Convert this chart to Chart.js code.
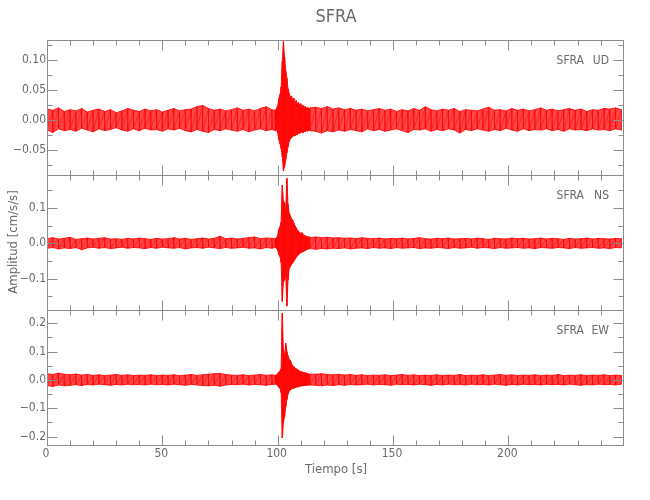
<!DOCTYPE html>
<html>
<head>
<meta charset="utf-8">
<script src="https://cdn.jsdelivr.net/npm/chart.js@4.4.1/dist/chart.umd.min.js"></script>
<style>
    html, body { margin: 0; padding: 0; background: #fff; }
    #wrap { position: relative; width: 650px; height: 500px; }
    #wrap canvas { position: absolute; left: 0; top: 0; }
</style>
</head>
<body>
<div id="wrap">
    <canvas id="c1" width="650" height="500"></canvas>
    <canvas id="c2" width="650" height="500"></canvas>
    <canvas id="c3" width="650" height="500"></canvas>
</div>
<script>
// tiempos (s) de cada ventana de la envolvente
const tiempoPre = [0, 2.5, 5, 7.5, 10, 12.5, 15, 17.5, 20, 22.5, 25, 27.5, 30, 32.5, 35, 37.5, 40, 42.5, 45, 47.5,
    50, 52.5, 55, 57.5, 60, 62.5, 65, 67.5, 70, 72.5, 75, 77.5, 80, 82.5, 85, 87.5, 90, 92.5, 95, 97.5];
const tiempoEvento = [99, 99.5, 100, 100.5, 101, 101.5, 102, 102.5, 103, 103.5, 104, 104.5, 105, 105.5, 106, 106.5,
    107, 107.5, 108, 108.5, 109, 109.5, 110, 110.5, 111, 111.5, 112, 112.5, 113, 113.5, 114];
const tiempoPost = [116.5, 119, 121.5, 124, 126.5, 129, 131.5, 134, 136.5, 139, 141.5, 144, 146.5, 149, 151.5, 154,
    156.5, 159, 161.5, 164, 166.5, 169, 171.5, 174, 176.5, 179, 181.5, 184, 186.5, 189, 191.5, 194, 196.5, 199,
    201.5, 204, 206.5, 209, 211.5, 214, 216.5, 219, 221.5, 224, 226.5, 229, 231.5, 234, 236.5, 239, 241.5, 244, 246.5, 249];

// componente UD (cm/s/s): maximo y minimo de cada ventana
const udMaxPre = [0.018, 0.016, 0.020, 0.014, 0.017, 0.015, 0.019, 0.013, 0.016, 0.018, 0.014, 0.017, 0.012, 0.015,
    0.019, 0.016, 0.014, 0.018, 0.015, 0.017, 0.013, 0.016, 0.019, 0.015, 0.017, 0.018, 0.022, 0.024, 0.019, 0.016,
    0.018, 0.015, 0.017, 0.020, 0.016, 0.018, 0.015, 0.019, 0.022, 0.017];
const udMinPre = [-0.017, -0.021, -0.015, -0.018, -0.016, -0.019, -0.014, -0.017, -0.020, -0.015, -0.018, -0.016,
    -0.013, -0.017, -0.019, -0.015, -0.018, -0.014, -0.017, -0.016, -0.019, -0.015, -0.017, -0.014, -0.018, -0.020,
    -0.016, -0.019, -0.021, -0.016, -0.018, -0.015, -0.017, -0.019, -0.016, -0.020, -0.017, -0.015, -0.018, -0.016];
const udMaxEvento = [0.016, 0.019, 0.024, 0.035, 0.042, 0.055, 0.098, 0.131, 0.105, 0.082, 0.070, 0.052, 0.044,
    0.038, 0.040, 0.034, 0.036, 0.030, 0.032, 0.027, 0.029, 0.025, 0.027, 0.022, 0.024, 0.021, 0.023, 0.019, 0.021, 0.018, 0.020];
const udMinEvento = [-0.018, -0.017, -0.022, -0.033, -0.040, -0.048, -0.062, -0.085, -0.078, -0.066, -0.055, -0.045,
    -0.036, -0.032, -0.030, -0.028, -0.026, -0.027, -0.024, -0.025, -0.022, -0.023, -0.021, -0.020, -0.022, -0.019,
    -0.020, -0.018, -0.019, -0.017, -0.018];
const udMaxPost = [0.021, 0.019, 0.022, 0.018, 0.020, 0.017, 0.019, 0.016, 0.018, 0.015, 0.017, 0.019, 0.016, 0.018,
    0.014, 0.017, 0.015, 0.019, 0.016, 0.022, 0.017, 0.015, 0.018, 0.016, 0.019, 0.014, 0.017, 0.016, 0.015, 0.018,
    0.021, 0.016, 0.017, 0.015, 0.019, 0.016, 0.018, 0.015, 0.017, 0.020, 0.016, 0.018, 0.015, 0.017, 0.019, 0.016,
    0.018, 0.014, 0.017, 0.016, 0.019, 0.018, 0.020, 0.017];
const udMinPost = [-0.019, -0.022, -0.018, -0.020, -0.017, -0.019, -0.016, -0.018, -0.020, -0.015, -0.018, -0.016,
    -0.019, -0.017, -0.015, -0.018, -0.021, -0.016, -0.017, -0.015, -0.019, -0.016, -0.018, -0.015, -0.017, -0.022,
    -0.016, -0.018, -0.015, -0.017, -0.019, -0.016, -0.018, -0.014, -0.017, -0.019, -0.015, -0.018, -0.016, -0.017,
    -0.015, -0.018, -0.016, -0.019, -0.015, -0.017, -0.016, -0.018, -0.015, -0.017, -0.016, -0.018, -0.015, -0.017];

// componente NS
const nsMaxPre = [0.013, 0.016, 0.012, 0.014, 0.017, 0.011, 0.013, 0.015, 0.012, 0.014, 0.016, 0.012, 0.013, 0.011,
    0.014, 0.012, 0.015, 0.013, 0.011, 0.014, 0.012, 0.013, 0.016, 0.012, 0.014, 0.011, 0.013, 0.015, 0.012, 0.014,
    0.020, 0.013, 0.015, 0.012, 0.014, 0.016, 0.018, 0.013, 0.015, 0.014];
const nsMinPre = [-0.014, -0.012, -0.016, -0.013, -0.015, -0.012, -0.018, -0.013, -0.011, -0.014, -0.012, -0.015,
    -0.013, -0.011, -0.014, -0.012, -0.013, -0.015, -0.012, -0.014, -0.011, -0.013, -0.014, -0.012, -0.016, -0.013,
    -0.012, -0.014, -0.011, -0.013, -0.015, -0.012, -0.014, -0.013, -0.011, -0.014, -0.013, -0.016, -0.012, -0.014];
const nsMaxEvento = [0.013, 0.016, 0.022, 0.040, 0.047, 0.060, 0.165, 0.120, 0.114, 0.095, 0.184, 0.110, 0.085,
    0.078, 0.070, 0.066, 0.058, 0.050, 0.044, 0.038, 0.035, 0.031, 0.028, 0.030, 0.025, 0.023, 0.021, 0.020, 0.018, 0.019, 0.016];
const nsMinEvento = [-0.012, -0.015, -0.020, -0.032, -0.038, -0.055, -0.165, -0.110, -0.104, -0.090, -0.178, -0.105,
    -0.072, -0.066, -0.060, -0.056, -0.050, -0.045, -0.040, -0.036, -0.033, -0.030, -0.027, -0.025, -0.024, -0.022,
    -0.020, -0.019, -0.017, -0.016, -0.015];
const nsMaxPost = [0.018, 0.016, 0.017, 0.015, 0.016, 0.014, 0.015, 0.013, 0.016, 0.014, 0.013, 0.015, 0.012, 0.014,
    0.013, 0.015, 0.012, 0.014, 0.016, 0.013, 0.012, 0.014, 0.013, 0.015, 0.012, 0.013, 0.014, 0.012, 0.015, 0.013,
    0.011, 0.014, 0.013, 0.012, 0.015, 0.013, 0.014, 0.012, 0.013, 0.015, 0.012, 0.014, 0.013, 0.011, 0.014, 0.012,
    0.013, 0.015, 0.012, 0.014, 0.013, 0.012, 0.014, 0.013];
const nsMinPost = [-0.017, -0.015, -0.016, -0.014, -0.015, -0.013, -0.016, -0.014, -0.013, -0.015, -0.012, -0.014,
    -0.013, -0.015, -0.012, -0.014, -0.013, -0.012, -0.015, -0.013, -0.014, -0.012, -0.013, -0.015, -0.012, -0.014,
    -0.013, -0.011, -0.014, -0.012, -0.013, -0.015, -0.012, -0.014, -0.013, -0.012, -0.014, -0.013, -0.015, -0.012,
    -0.013, -0.014, -0.012, -0.013, -0.015, -0.012, -0.014, -0.013, -0.012, -0.014, -0.013, -0.015, -0.012, -0.013];

// componente EW
const ewMaxPre = [0.022, 0.019, 0.024, 0.020, 0.018, 0.021, 0.017, 0.019, 0.016, 0.018, 0.015, 0.017, 0.019, 0.016,
    0.018, 0.015, 0.017, 0.016, 0.018, 0.015, 0.017, 0.016, 0.018, 0.015, 0.017, 0.019, 0.016, 0.018, 0.020, 0.022,
    0.023, 0.019, 0.017, 0.016, 0.018, 0.015, 0.017, 0.019, 0.016, 0.018];
const ewMinPre = [-0.020, -0.023, -0.018, -0.021, -0.019, -0.017, -0.020, -0.016, -0.018, -0.015, -0.017, -0.019,
    -0.016, -0.018, -0.015, -0.017, -0.016, -0.018, -0.015, -0.017, -0.016, -0.018, -0.015, -0.017, -0.019, -0.016,
    -0.018, -0.020, -0.021, -0.019, -0.022, -0.018, -0.016, -0.017, -0.015, -0.018, -0.016, -0.017, -0.019, -0.016];
const ewMaxEvento = [0.016, 0.018, 0.022, 0.028, 0.032, 0.040, 0.236, 0.110, 0.082, 0.130, 0.100, 0.085, 0.072,
    0.070, 0.058, 0.050, 0.047, 0.042, 0.040, 0.036, 0.035, 0.031, 0.030, 0.028, 0.027, 0.025, 0.026, 0.024, 0.022, 0.021, 0.020];
const ewMinEvento = [-0.015, -0.017, -0.020, -0.026, -0.030, -0.045, -0.205, -0.150, -0.130, -0.095, -0.070, -0.050,
    -0.040, -0.035, -0.033, -0.030, -0.030, -0.028, -0.026, -0.025, -0.024, -0.023, -0.022, -0.021, -0.021, -0.020,
    -0.020, -0.019, -0.019, -0.018, -0.018];
const ewMaxPost = [0.020, 0.022, 0.019, 0.018, 0.020, 0.017, 0.019, 0.016, 0.018, 0.015, 0.017, 0.016, 0.018, 0.015,
    0.017, 0.019, 0.016, 0.018, 0.015, 0.017, 0.016, 0.018, 0.015, 0.017, 0.016, 0.019, 0.015, 0.017, 0.016, 0.018,
    0.015, 0.017, 0.019, 0.016, 0.018, 0.015, 0.017, 0.016, 0.018, 0.015, 0.017, 0.016, 0.019, 0.015, 0.017, 0.016,
    0.018, 0.015, 0.017, 0.016, 0.018, 0.015, 0.017, 0.016];
const ewMinPost = [-0.019, -0.021, -0.018, -0.020, -0.017, -0.019, -0.016, -0.018, -0.017, -0.015, -0.018, -0.016,
    -0.017, -0.019, -0.015, -0.017, -0.016, -0.018, -0.015, -0.017, -0.019, -0.016, -0.018, -0.015, -0.017, -0.016,
    -0.018, -0.015, -0.017, -0.016, -0.018, -0.015, -0.017, -0.019, -0.016, -0.018, -0.015, -0.017, -0.016, -0.018,
    -0.015, -0.017, -0.016, -0.018, -0.015, -0.017, -0.019, -0.016, -0.018, -0.015, -0.017, -0.016, -0.018, -0.015];

// etiquetas de los ejes
const ticksX = [0, 50, 100, 150, 200];
const ticksUD = [-0.05, 0.00, 0.05, 0.10];
const ticksNS = [-0.1, 0.0, 0.1];
const ticksEW = [-0.2, -0.1, 0.0, 0.1, 0.2];

const tiempo = tiempoPre.concat(tiempoEvento, tiempoPost);

const fuente = "'Liberation Sans Narrow', 'DejaVu Sans Condensed', 'Roboto', sans-serif";
const gris = '#8c8c8c';
const grisTexto = '#6a6a6a';

const paneles = [
    { id: 'c1', canal: 'UD', max: udMaxPre.concat(udMaxEvento, udMaxPost), min: udMinPre.concat(udMinEvento, udMinPost),
      yMin: -0.092, yMax: 0.1333, ticks: ticksUD, dec: 2, menor: 0.025, pad: { top: 40, bottom: 325 } },
    { id: 'c2', canal: 'NS', max: nsMaxPre.concat(nsMaxEvento, nsMaxPost), min: nsMinPre.concat(nsMinEvento, nsMinPost),
      yMin: -0.189, yMax: 0.1935, ticks: ticksNS, dec: 1, menor: 0.05, pad: { top: 175, bottom: 190 } },
    { id: 'c3', canal: 'EW', max: ewMaxPre.concat(ewMaxEvento, ewMaxPost), min: ewMinPre.concat(ewMinEvento, ewMinPost),
      yMin: -0.23, yMax: 0.247, ticks: ticksEW, dec: 1, menor: 0.05, pad: { top: 310, bottom: 55 } }
];

function fmt(v, dec) {
    let s = Math.abs(v).toFixed(dec);
    return v < -1e-9 ? '\u2212' + s : s;
}

function letra(ctx, size) {
    ctx.font = size + 'px ' + fuente;
}

const marco = {
    id: 'marco',
    afterDraw(chart, args, opts) {
        const ctx = chart.ctx;
        const a = chart.chartArea;
        const sx = chart.scales.x, sy = chart.scales.y;
        const L = Math.round(a.left) + 0.5, R = Math.round(a.right) + 0.5;
        const T = Math.round(a.top) + 0.5, B = Math.round(a.bottom) + 0.5;
        ctx.save();
        ctx.strokeStyle = gris;
        ctx.lineWidth = 1;
        ctx.strokeRect(L, T, R - L, B - T);
        ctx.beginPath();
        // marcas del eje x, arriba y abajo
        for (let v = 0; v <= sx.max; v += 10) {
            const px = Math.round(sx.getPixelForValue(v)) + 0.5;
            const len = v % 50 === 0 ? 10 : 5;
            ctx.moveTo(px, B); ctx.lineTo(px, B - len);
            ctx.moveTo(px, T); ctx.lineTo(px, T + len);
        }
        // marcas del eje y, izquierda y derecha
        const p = opts.panel;
        const n0 = Math.ceil(p.yMin / p.menor - 1e-6), n1 = Math.floor(p.yMax / p.menor + 1e-6);
        for (let k = n0; k <= n1; k++) {
            const v = k * p.menor;
            const py = Math.round(sy.getPixelForValue(v)) + 0.5;
            const mayor = p.ticks.some(t => Math.abs(t - v) < 1e-6);
            const len = mayor ? 10 : 5;
            ctx.moveTo(L, py); ctx.lineTo(L + len, py);
            ctx.moveTo(R, py); ctx.lineTo(R - len, py);
        }
        ctx.stroke();

        ctx.fillStyle = grisTexto;
        letra(ctx, 12);
        ctx.textAlign = 'right';
        ctx.textBaseline = 'middle';
        p.ticks.forEach(t => {
            ctx.fillText(fmt(t, p.dec), a.left - 1, sy.getPixelForValue(t));
        });
        // nombre de la estacion y componente
        ctx.fillText('SFRA', 584, a.top + 21);
        ctx.fillText(p.canal, 609, a.top + 21);

        if (p.canal === 'EW') {
            ctx.textAlign = 'center';
            ticksX.forEach(t => {
                ctx.fillText(String(t), sx.getPixelForValue(t) - 1, a.bottom + 9);
            });
            letra(ctx, 13);
            ctx.fillText('Tiempo [s]', 336, 470);
        }
        if (p.canal === 'NS') {
            letra(ctx, 13);
            ctx.translate(14, 242);
            ctx.rotate(-Math.PI / 2);
            ctx.textAlign = 'center';
            ctx.fillText('Amplitud [cm/s/s]', 0, 0);
        }
        if (p.canal === 'UD') {
            ctx.textAlign = 'center';
            letra(ctx, 18);
            ctx.fillText('SFRA', 336, 17);
        }
        ctx.restore();
    }
};

paneles.forEach(p => {
    const arriba = tiempo.map((t, i) => ({ x: t, y: p.max[i] }));
    const abajo = tiempo.map((t, i) => ({ x: t, y: p.min[i] }));
    const traza = [];
    tiempo.forEach((t, i) => {
        traza.push({ x: t, y: p.max[i] });
        traza.push({ x: t, y: p.min[i] });
    });

    new Chart(document.getElementById(p.id), {
        type: 'line',
        data: {
            datasets: [
                {
                    label: 'max',
                    data: arriba,
                    borderColor: 'rgba(255,0,0,0.85)',
                    borderWidth: 1,
                    backgroundColor: 'rgba(255,0,0,0.72)',
                    pointRadius: 0,
                    fill: '+1',
                    tension: 0
                },
                {
                    label: 'min',
                    data: abajo,
                    borderColor: 'rgba(255,0,0,0.85)',
                    borderWidth: 1,
                    pointRadius: 0,
                    fill: false,
                    tension: 0
                },
                {
                    label: 'traza',
                    data: traza,
                    borderColor: 'rgba(255,0,0,0.9)',
                    borderWidth: 0.6,
                    pointRadius: 0,
                    fill: false,
                    tension: 0
                }
            ]
        },
        options: {
            responsive: false,
            animation: false,
            devicePixelRatio: 1,
            layout: { padding: { left: 47, right: 27, top: p.pad.top, bottom: p.pad.bottom } },
            scales: {
                x: { type: 'linear', min: 0, max: 249.7, display: false },
                y: { type: 'linear', min: p.yMin, max: p.yMax, display: false }
            },
            plugins: {
                legend: { display: false },
                tooltip: { enabled: false },
                marco: { panel: p }
            }
        },
        plugins: [marco]
    });
});
</script>
</body>
</html>
